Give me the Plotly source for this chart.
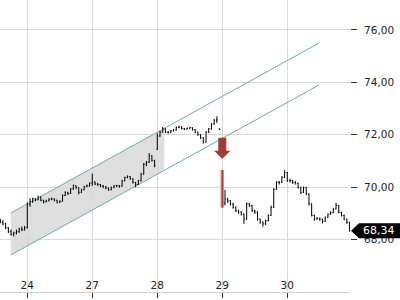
import plotly.graph_objects as go

# ---------------- data ----------------
day_labels = ["24", "27", "28", "29", "30"]
bars_per_day = 24
pre_first_slot = 14   # first visible slot of the previous session
pre_count = 10

opens = [
    # previous session tail
    68.70, 68.66, 68.60, 68.45, 68.30, 68.20, 68.25, 68.30, 68.40, 68.38,
    # 24
    68.45, 69.35, 69.45, 69.55, 69.52, 69.62, 69.50, 69.44, 69.48, 69.54, 69.55, 69.50,
    69.42, 69.46, 69.68, 69.80, 69.76, 69.93, 70.05, 69.99, 69.80, 69.90, 70.02, 70.05,
    # 27
    70.15, 70.20, 70.12, 70.10, 70.05, 70.02, 69.97, 69.90, 69.99, 70.05, 70.05, 70.04,
    70.24, 70.37, 70.40, 70.32, 70.18, 70.10, 70.25, 70.50, 70.88, 70.95, 71.20, 71.01,
    # 28
    71.45, 71.95, 72.10, 72.22, 72.10, 72.08, 72.15, 72.18, 72.28, 72.30, 72.24, 72.22,
    72.24, 72.27, 72.20, 72.10, 72.00, 71.88, 71.72, 72.10, 72.22, 72.40, 72.55, 72.22,
    # 29
    70.60, 69.40, 69.55, 69.48, 69.36, 69.23, 69.10, 69.05, 68.97, 68.78, 69.36, 69.30,
    69.10, 69.05, 68.78, 68.66, 68.60, 68.72, 68.92, 69.23, 69.92, 70.18, 70.18, 70.37,
    # 30
    70.56, 70.25, 70.25, 70.18, 70.15, 69.99, 69.80, 69.99, 69.74, 69.36, 68.92, 68.78,
    68.81, 68.78, 68.70, 68.85, 68.97, 69.04, 69.17, 69.30, 69.04, 68.92, 68.78, 68.66,
]
highs = [
    68.80, 68.74, 68.64, 68.48, 68.38, 68.30, 68.38, 68.45, 68.50, 68.52,
    69.42, 69.58, 69.60, 69.58, 69.68, 69.64, 69.52, 69.52, 69.58, 69.60, 69.57, 69.52,
    69.50, 69.72, 69.84, 69.82, 69.96, 70.10, 70.07, 70.00, 69.94, 70.05, 70.10, 70.18,
    70.52, 70.22, 70.16, 70.12, 70.08, 70.04, 69.99, 70.02, 70.08, 70.09, 70.08, 70.28,
    70.40, 70.45, 70.42, 70.34, 70.20, 70.28, 70.55, 70.92, 71.00, 71.30, 71.22, 71.04,
    72.05, 72.14, 72.30, 72.24, 72.14, 72.18, 72.22, 72.32, 72.34, 72.32, 72.26, 72.28,
    72.30, 72.28, 72.22, 72.12, 72.02, 71.90, 72.14, 72.26, 72.44, 72.60, 72.70, 72.24,
    70.65, 69.90, 69.60, 69.50, 69.40, 69.26, 69.14, 69.08, 69.00, 69.42, 69.40, 69.32,
    69.14, 69.08, 68.80, 68.70, 68.76, 68.96, 69.30, 69.96, 70.22, 70.24, 70.42, 70.65,
    70.58, 70.32, 70.28, 70.24, 70.17, 70.02, 70.02, 70.00, 69.76, 69.38, 68.95, 68.86,
    68.84, 68.80, 68.88, 69.00, 69.08, 69.20, 69.40, 69.32, 69.06, 68.95, 68.80, 68.68,
]
lows = [
    68.62, 68.55, 68.40, 68.25, 68.15, 68.12, 68.20, 68.26, 68.32, 68.34,
    68.42, 69.25, 69.40, 69.46, 69.50, 69.46, 69.38, 69.42, 69.46, 69.50, 69.46, 69.38,
    69.40, 69.45, 69.66, 69.70, 69.74, 69.90, 69.92, 69.72, 69.78, 69.88, 70.00, 70.02,
    70.05, 70.08, 70.05, 70.00, 69.96, 69.92, 69.86, 69.88, 69.96, 70.00, 69.98, 70.02,
    70.22, 70.34, 70.28, 70.14, 70.00, 70.08, 70.22, 70.48, 70.80, 70.92, 70.98, 70.76,
    71.42, 71.92, 72.08, 72.06, 72.04, 72.06, 72.12, 72.16, 72.24, 72.20, 72.18, 72.20,
    72.22, 72.16, 72.06, 71.96, 71.84, 71.66, 71.70, 72.06, 72.20, 72.38, 72.45, 72.18,
    69.22, 69.30, 69.40, 69.30, 69.18, 69.05, 68.98, 68.92, 68.60, 68.76, 69.24, 69.05,
    68.98, 68.72, 68.60, 68.49, 68.56, 68.70, 68.90, 69.20, 69.90, 70.10, 70.16, 70.35,
    70.20, 70.18, 70.12, 70.10, 69.94, 69.74, 69.78, 69.70, 69.30, 68.88, 68.72, 68.76,
    68.72, 68.62, 68.68, 68.82, 68.94, 69.00, 69.15, 69.00, 68.88, 68.74, 68.60, 68.30,
]
closes = [
    68.66, 68.60, 68.45, 68.30, 68.20, 68.25, 68.30, 68.40, 68.38, 68.45,
    69.35, 69.45, 69.55, 69.52, 69.62, 69.50, 69.44, 69.48, 69.54, 69.55, 69.50, 69.42,
    69.46, 69.68, 69.80, 69.76, 69.93, 70.05, 69.99, 69.80, 69.90, 70.02, 70.05, 70.15,
    70.20, 70.12, 70.10, 70.05, 70.02, 69.97, 69.90, 69.99, 70.05, 70.05, 70.04, 70.24,
    70.37, 70.40, 70.32, 70.18, 70.10, 70.25, 70.50, 70.88, 70.95, 71.20, 71.01, 70.82,
    71.95, 72.10, 72.22, 72.10, 72.08, 72.15, 72.18, 72.28, 72.30, 72.24, 72.22, 72.24,
    72.27, 72.20, 72.10, 72.00, 71.88, 71.72, 72.10, 72.22, 72.40, 72.55, 72.57, 72.20,
    69.40, 69.55, 69.48, 69.36, 69.23, 69.10, 69.05, 68.97, 68.78, 69.36, 69.30, 69.10,
    69.05, 68.78, 68.66, 68.60, 68.72, 68.92, 69.23, 69.92, 70.18, 70.18, 70.37, 70.56,
    70.25, 70.25, 70.18, 70.15, 69.99, 69.80, 69.99, 69.74, 69.36, 68.92, 68.78, 68.81,
    68.78, 68.70, 68.85, 68.97, 69.04, 69.17, 69.30, 69.04, 68.92, 68.78, 68.66, 68.34,
]

# trend channel (drawing tool) endpoints, in day units / price
channel_x = [-0.255, 4.49]
channel_upper = [69.015, 75.50]
channel_lower = [67.41, 73.90]
channel_fill_end = 2.108

# sell signal arrow
signal_day = 3
signal_top = 71.88
signal_neck = 71.39
signal_tip = 71.08

y_range = [66.0, 77.14]
x_range = [-0.42, 4.965]
y_ticks = [66, 68, 70, 72, 74, 76]

# ---------------- build ----------------
x = [-1 + (pre_first_slot + i) / bars_per_day for i in range(pre_count)]
x += [d + j / bars_per_day for d in range(len(day_labels)) for j in range(bars_per_day)]

def lerp(xs, ys, xv):
    return ys[0] + (ys[1] - ys[0]) * (xv - xs[0]) / (xs[1] - xs[0])

teal = "#69acb3"
fig = go.Figure()
shapes = []

# gray channel fill (below grid and traces)
fx = [channel_x[0], channel_fill_end, channel_fill_end, channel_x[0]]
fy = [channel_upper[0], lerp(channel_x, channel_upper, channel_fill_end),
      lerp(channel_x, channel_lower, channel_fill_end), channel_lower[0]]
fill_path = "M " + " L ".join(f"{a},{b}" for a, b in zip(fx, fy)) + " Z"
shapes.append(dict(type="path", path=fill_path, xref="x", yref="y",
                   fillcolor="#dedede", line=dict(width=0), layer="below"))

# channel lines
for ys in (channel_upper, channel_lower):
    shapes.append(dict(type="line", x0=channel_x[0], x1=channel_x[1], y0=ys[0], y1=ys[1],
                       xref="x", yref="y", line=dict(color=teal, width=1), layer="between"))

# highlighted signal bar (under the bars)
sig_idx = pre_count + signal_day * bars_per_day
shapes.append(dict(type="line", x0=x[sig_idx], x1=x[sig_idx], y0=lows[sig_idx], y1=highs[sig_idx],
                   xref="x", yref="y", line=dict(color="#d88a80", width=3.5), layer="between"))

keep = [i for i in range(len(x)) if i != sig_idx]
fig.add_trace(go.Ohlc(x=[x[i] for i in keep], open=[opens[i] for i in keep],
                      high=[highs[i] for i in keep], low=[lows[i] for i in keep],
                      close=[closes[i] for i in keep],
                      increasing=dict(line=dict(color="black", width=1)),
                      decreasing=dict(line=dict(color="black", width=1)),
                      tickwidth=0.3, hoverinfo="skip", showlegend=False))
fig.add_trace(go.Ohlc(x=[x[sig_idx]], open=[opens[sig_idx]], high=[highs[sig_idx]],
                      low=[lows[sig_idx]], close=[closes[sig_idx]],
                      increasing=dict(line=dict(color="#8e3028", width=1)),
                      decreasing=dict(line=dict(color="#8e3028", width=1)),
                      tickwidth=0.02, hoverinfo="skip", showlegend=False))

# arrow shape
sw, hw = 0.062, 0.125
arrow_path = (f"M {signal_day - sw},{signal_top} L {signal_day + sw},{signal_top} "
              f"L {signal_day + sw},{signal_neck} L {signal_day + hw},{signal_neck} "
              f"L {signal_day},{signal_tip} L {signal_day - hw},{signal_neck} "
              f"L {signal_day - sw},{signal_neck} Z")
shapes.append(dict(type="path", path=arrow_path, xref="x", yref="y",
                   fillcolor="#a23b33", line=dict(width=0), layer="above"))

# last price tag
last = closes[-1]
plot_w_px, plot_h_px = 350, 292
yc = (last - y_range[0]) / (y_range[1] - y_range[0])
hh = 7.5 / plot_h_px
tip = 351 / plot_w_px
base = 359 / plot_w_px
right = 400 / plot_w_px
tag_path = (f"M {tip},{yc} L {base},{yc + hh} L {right},{yc + hh} "
            f"L {right},{yc - hh} L {base},{yc - hh} Z")
shapes.append(dict(type="path", path=tag_path, xref="paper", yref="paper",
                   fillcolor="black", line=dict(width=0), layer="above"))

annotations = [dict(x=379 / plot_w_px, y=last, xref="paper", yref="y",
                    text=f"{last:.2f}".replace(".", ","), showarrow=False,
                    font=dict(color="white", size=11, family="DejaVu Sans"),
                    xanchor="center", yanchor="middle")]

fig.update_layout(
    width=400, height=300,
    margin=dict(l=0, r=50, t=0, b=8),
    paper_bgcolor="white", plot_bgcolor="white",
    separators=",.",
    font=dict(family="DejaVu Sans", size=10.5, color="#222"),
    shapes=shapes, annotations=annotations,
    showlegend=False,
    xaxis=dict(range=x_range, tickmode="array", tickvals=list(range(len(day_labels))),
               ticktext=day_labels, ticks="outside", ticklen=5, tickcolor="#333",
               ticklabelposition="inside", showgrid=True, gridcolor="#d9d9d9",
               gridwidth=1, showline=True, linecolor="#d0d0d0", linewidth=1,
               zeroline=False, rangeslider=dict(visible=False),
               tickfont=dict(size=10.5, color="#222")),
    yaxis=dict(range=y_range, side="right", tickmode="array", tickvals=y_ticks,
               tickformat=".2f", ticks="outside", ticklen=6, tickcolor="#333",
               ticklabelstandoff=5,
               showgrid=True, gridcolor="#d9d9d9", gridwidth=1, zeroline=False,
               showline=False, tickfont=dict(size=10.5, color="#222")),
)

fig.write_html("out.html")
